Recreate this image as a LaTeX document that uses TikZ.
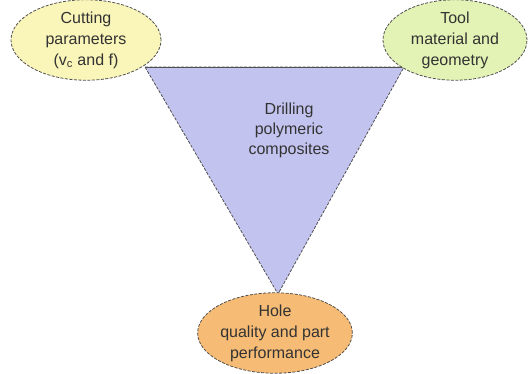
\documentclass[tikz,border=0pt]{standalone}
\usepackage{fontspec}
\setmainfont{Liberation Sans}
\usetikzlibrary{shapes.geometric}
\definecolor{ylw}{HTML}{FAF5B9}
\definecolor{grn}{HTML}{E3F3B5}
\definecolor{org}{HTML}{F6BB74}
\definecolor{lav}{HTML}{C3C3F0}
\definecolor{edge}{HTML}{505050}
\definecolor{txt}{HTML}{333333}
\tikzset{
  bubble/.style={ellipse, draw=edge, line width=0.8pt, dash pattern=on 3pt off 1.5pt,
    minimum width=#1, inner sep=0pt, text=txt, align=center,
    font=\fontsize{16}{21}\selectfont},
  tri/.style={fill=lav, draw=edge, line width=0.8pt, dash pattern=on 3pt off 1.5pt}
}
\begin{document}
\begin{tikzpicture}[x=1pt,y=-1pt]
\useasboundingbox (0,0) rectangle (528,373);
\coordinate (tl) at (145,67);
\coordinate (tr) at (404,67);
\coordinate (bv) at (278,294);
\draw[tri] (tl) -- (tr) -- (bv) -- cycle;
\draw[edge, line width=0.9pt] (tl) -- (tr);
\node[text=txt, align=center, font=\fontsize{16}{20}\selectfont] (c) at (289,130) {Drilling\\polymeric\\composites};
\node[bubble=150pt, minimum height=75pt, fill=ylw] (a) at (86,40) {Cutting\\parameters\\(v\textsubscript{c} and f)};
\node[bubble=144pt, minimum height=80pt, fill=grn] (b) at (455,40) {Tool\\material and\\geometry};
\node[bubble=150pt, minimum height=76pt, fill=org] (d) at (275,333) {Hole\\quality and part\\performance};
\end{tikzpicture}
\end{document}
